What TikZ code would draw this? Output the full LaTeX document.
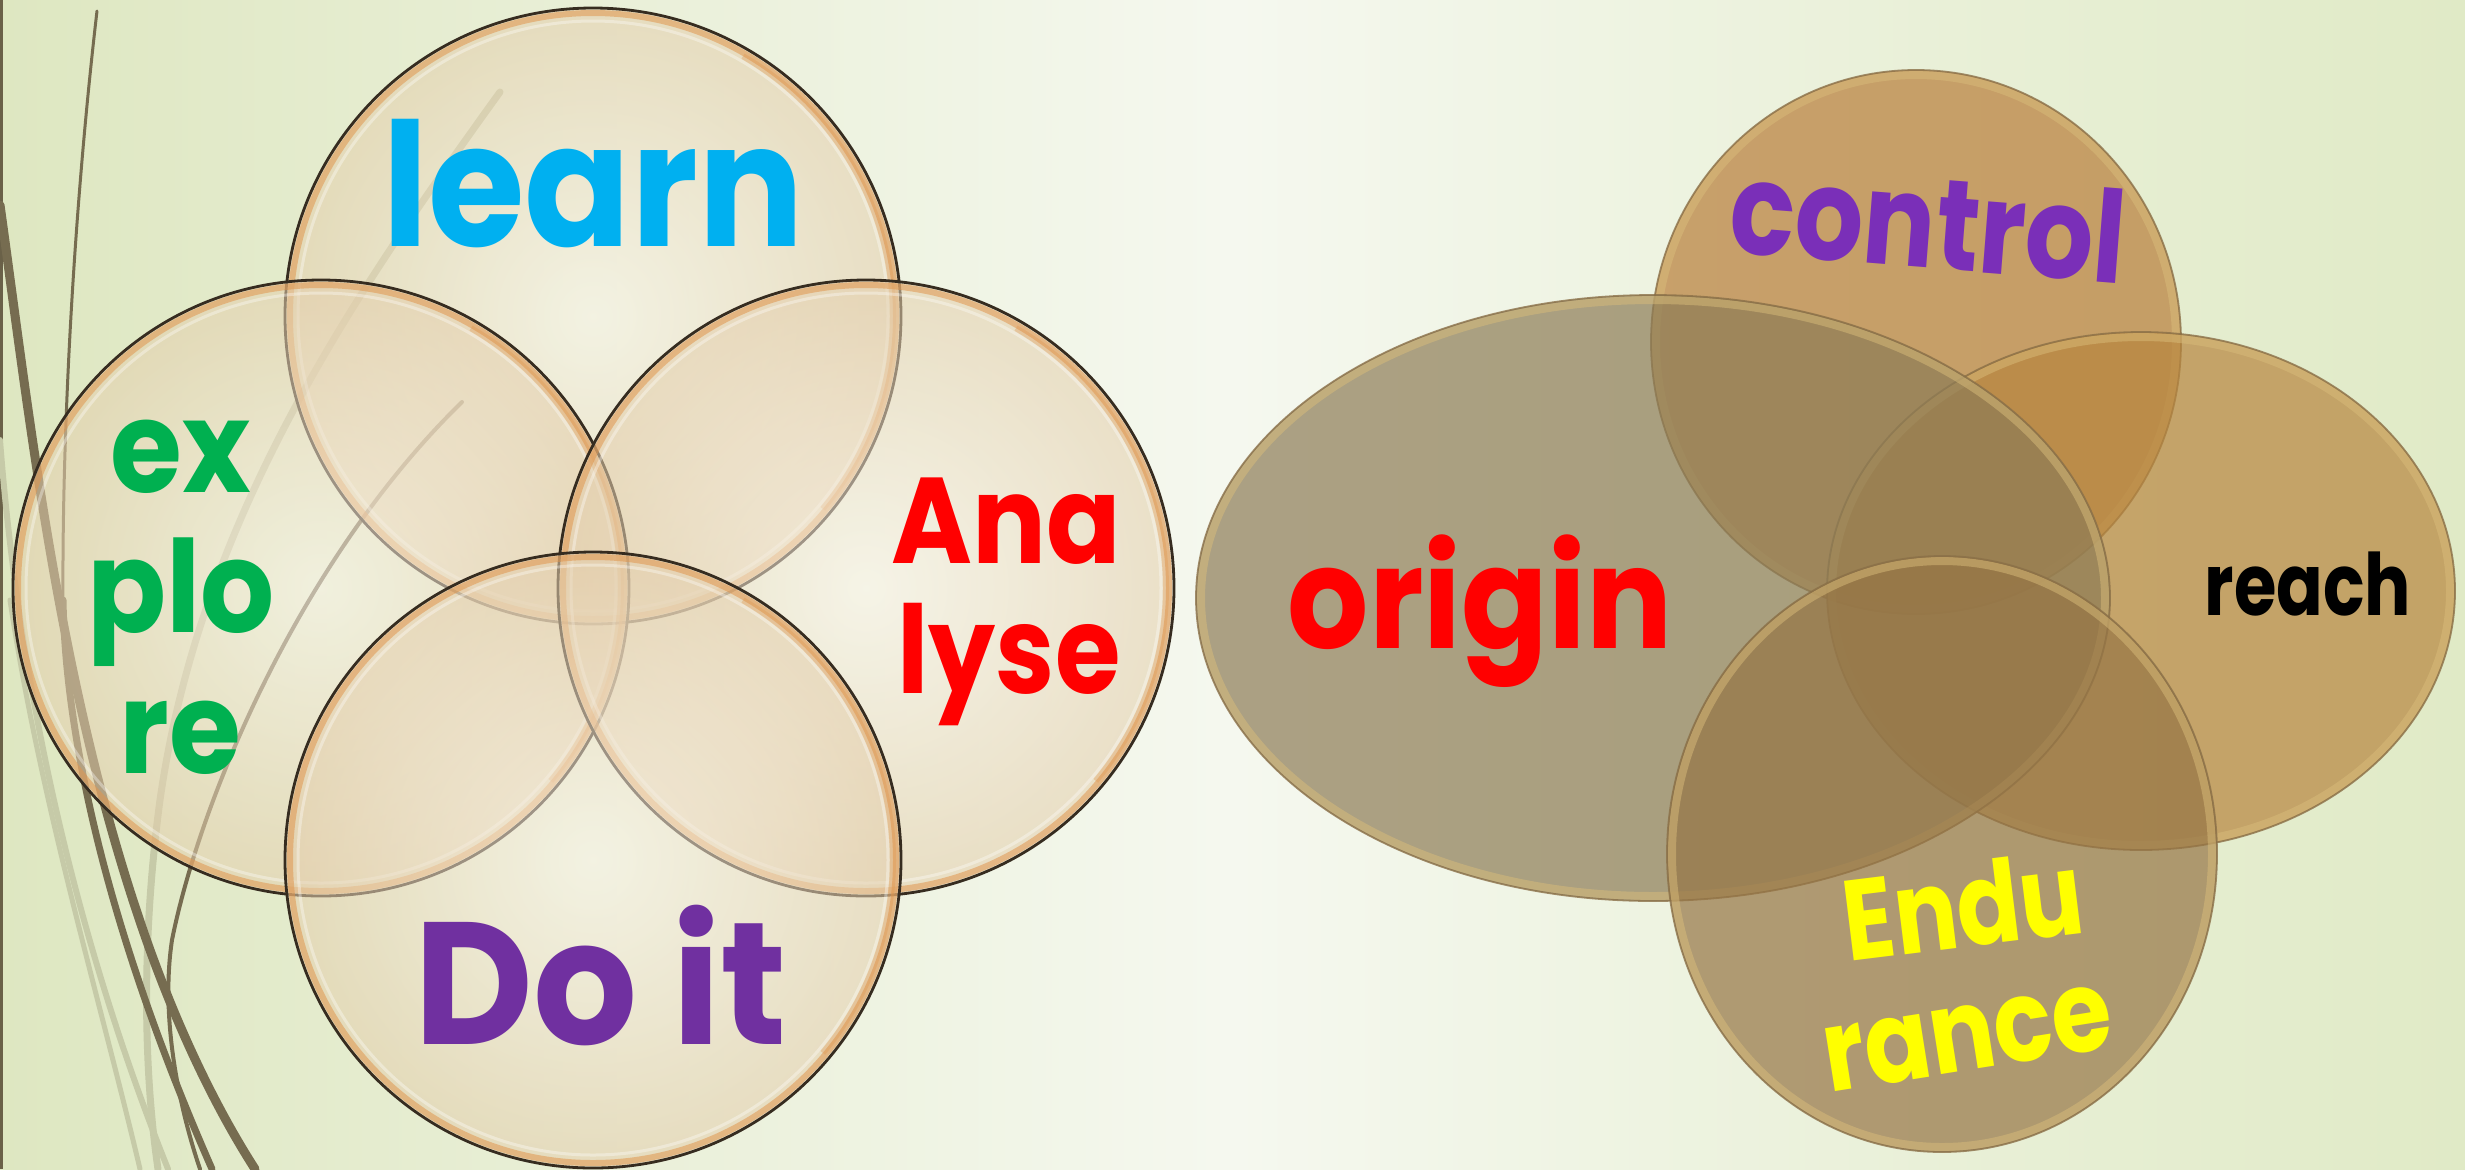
\documentclass[tikz,border=0pt]{standalone}
\usepackage{fontspec}
\setmainfont{Poppins}
\definecolor{bgEdge}{HTML}{DEE7C1}
\definecolor{bgMid}{HTML}{F5F8EF}
\definecolor{bgRight}{HTML}{E0EAC6}
\definecolor{bladeDark}{HTML}{766C50}
\definecolor{bladeLight}{HTML}{C6CAA8}
\definecolor{bubIn}{HTML}{FCF5EC}
\definecolor{bubOut}{HTML}{E3CDAA}
\definecolor{bubRim}{HTML}{E0964E}
\definecolor{bubLine}{HTML}{362C20}
\definecolor{ctrlFill}{HTML}{B87D39}
\definecolor{origFill}{HTML}{8D7C56}
\definecolor{reachFill}{HTML}{B7853E}
\definecolor{endFill}{HTML}{967545}
\definecolor{discRim}{HTML}{D9BC7A}
\definecolor{discLine}{HTML}{8A7048}
\definecolor{cLearn}{HTML}{00B0F0}
\definecolor{cExplore}{HTML}{00B050}
\definecolor{cAnalyse}{HTML}{FF0000}
\definecolor{cDoit}{HTML}{7030A0}
\definecolor{cControl}{HTML}{7A2FB8}
\definecolor{cEndure}{HTML}{FFFF00}
\newcommand\fs[1]{\fontsize{#1}{#1}\selectfont}
% horizontally narrowed word
\newcommand\narrow[2]{\scalebox{#1}[1]{#2}}
% one glassy bubble of the left diagram, centred at (#1,#2)
\newcommand\bubble[2]{%
  \shade[bubfill] (#1,#2) circle (308);
  \draw[bubrim] (#1,#2) circle (303);
  \draw[bubrim, draw opacity=.35] (#1,#2) ++(-60:300) arc[start angle=-60, end angle=40, radius=300];
  \draw[bubshine] (#1,#2) circle (295);
  \draw[bubedge] (#1,#2) circle (308);
}
% one tinted disc of the right diagram: fill colour, centre, radii
\newcommand\disc[5]{%
  \fill[#1, fill opacity=.7] (#2,#3) ellipse [x radius=#4, y radius=#5];
  \draw[discrim] (#2,#3) ellipse [x radius=#4-5, y radius=#5-5];
  \draw[discedge] (#2,#3) ellipse [x radius=#4, y radius=#5];
}
\tikzset{
  bubfill/.style={inner color=bubIn, outer color=bubOut, opacity=.55},
  bubrim/.style={draw=bubRim, line width=3pt, draw opacity=.55},
  bubshine/.style={draw=white, line width=1.5pt, draw opacity=.35},
  bubedge/.style={draw=bubLine, line width=1.4pt},
  discrim/.style={draw=discRim, line width=4pt, draw opacity=.5},
  discedge/.style={draw=discLine, line width=.9pt, draw opacity=.8},
  word/.style={inner sep=0pt, anchor=base},
  blade/.style={draw=bladeDark, line cap=round},
  faint/.style={draw=bladeLight, line cap=round},
}
\begin{document}
\begin{tikzpicture}[x=0.5pt,y=-0.5pt]
\useasboundingbox (0,0) rectangle (2465,1169);
% backdrop
\shade[left color=bgEdge, right color=bgRight, middle color=bgMid] (0,0) rectangle (2465,1169);
\fill[bladeDark!90!black] (0,0) rectangle (3,1169);

% grass blades at the left edge
\draw[faint, line width=3.5pt] (500,92) .. controls (350,300) and (200,520) .. (160,800) .. controls (140,950) and (145,1080) .. (158,1169);
\draw[faint, line width=3pt] (0,440) .. controls (20,700) and (80,950) .. (168,1169);
\draw[faint, line width=2.5pt] (10,600) .. controls (40,800) and (100,1000) .. (140,1169);
\draw[blade, line width=4.5pt] (0,205) .. controls (30,420) and (60,700) .. (150,950) .. controls (190,1060) and (230,1130) .. (255,1169);
\draw[blade, line width=1.5pt] (97,11) .. controls (75,200) and (62,420) .. (63,600);
\draw[blade, line width=3.5pt] (63,600) .. controls (66,760) and (120,960) .. (212,1169);
\draw[blade, line width=2pt] (462,402) .. controls (300,560) and (200,800) .. (172,940) .. controls (160,1020) and (180,1110) .. (200,1169);

% left diagram: four overlapping bubbles
\bubble{593}{316}
\bubble{321}{588}
\bubble{866}{588}
\bubble{593}{860}

\node[word, text=cLearn, font=\bfseries\fs{86pt}] (learn) at (593,246) {\narrow{.91}{learn}};
\node[word, text=cExplore, font=\bfseries\fs{64pt}] (explore1) at (181,492) {\narrow{.91}{ex}};
\node[word, text=cExplore, font=\bfseries\fs{64pt}] (explore2) at (181,632) {\narrow{.91}{plo}};
\node[word, text=cExplore, font=\bfseries\fs{64pt}] (explore3) at (180,773) {\narrow{.91}{re}};
\node[word, text=cAnalyse, font=\bfseries\fs{61pt}] (analyse1) at (1006,563) {\narrow{.9}{Ana}};
\node[word, text=cAnalyse, font=\bfseries\fs{61pt}] (analyse2) at (1009,693) {\narrow{.87}{lyse}};
\node[word, text=cDoit, font=\bfseries\fs{87pt}] (doit) at (601,1044) {\narrow{.94}{Do it}};

% right diagram: four tinted discs
\disc{ctrlFill}{1916}{342}{265}{272}
\disc{reachFill}{2141}{591}{314}{259}
\disc{origFill}{1653}{598}{457}{303}
\disc{endFill}{1942}{854}{275}{298}

\node[word, text=cControl, font=\bfseries\fs{64pt}, rotate=-4.5] (control) at (1925,268) {\narrow{.84}{control}};
\node[word, text=cAnalyse, font=\bfseries\fs{71pt}] (origin) at (1480,648) {\narrow{.9}{origin}};
\node[word, text=black, font=\bfseries\fs{43pt}] (reach) at (2308,615) {\narrow{.8}{reach}};
\node[word, text=cEndure, font=\bfseries\fs{57pt}, rotate=7] (endu) at (1968,947) {\narrow{.82}{Endu}};
\node[word, text=cEndure, font=\bfseries\fs{57pt}, rotate=9] (rance) at (1973,1070) {\narrow{.85}{rance}};
\end{tikzpicture}
\end{document}
